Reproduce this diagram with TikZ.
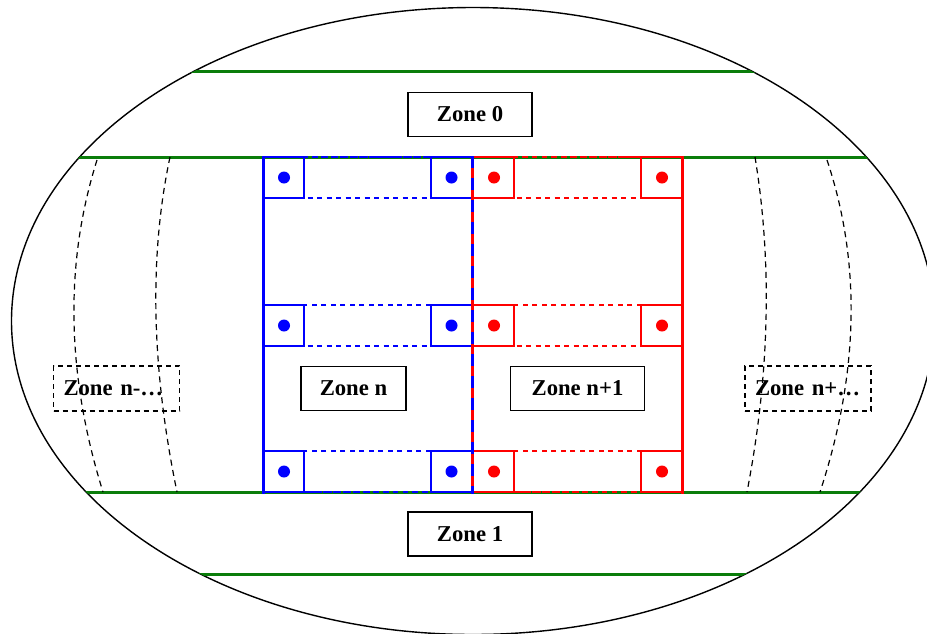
\documentclass[tikz,border=0pt]{standalone}
\usepackage{fontspec}
\setmainfont{Liberation Serif}
\usetikzlibrary{calc}
\definecolor{zgreen}{RGB}{10,125,10}
\definecolor{zblue}{RGB}{0,0,255}
\definecolor{zred}{RGB}{255,0,0}
\tikzset{
  outline/.style={draw=black, line width=1.4pt},
  band/.style={draw=zgreen, line width=3pt},
  wall/.style={line width=3pt},
  walldash/.style={line width=2.6pt, dash pattern=on 5pt off 5pt},
  rowdash/.style={line width=1.4pt, dash pattern=on 5pt off 4.5pt},
  cell/.style={line width=1.4pt},
  guide/.style={draw=black, line width=1.2pt, dash pattern=on 6pt off 4.5pt},
  zonebox/.style={draw=black, line width=1.5pt, minimum height=44pt, inner sep=0pt,
    font=\fontsize{22.7}{26}\selectfont\bfseries},
  farbox/.style={draw=black, line width=1.2pt, dash pattern=on 5pt off 4pt,
    minimum height=45pt, text width=106pt, align=left, inner xsep=10pt, inner ysep=0pt,
    font=\fontsize{22.7}{26}\selectfont\bfseries},
}
\begin{document}
\begin{tikzpicture}[x=1pt, y=-1pt]
\useasboundingbox (0,0) rectangle (927,633);
\clip (0,0) rectangle (927,633);

% outer ellipse and the four green bands, cut at the ellipse
\draw[outline] (473,321) ellipse [x radius=461.5pt, y radius=313.5pt];
\begin{scope}
  \clip (473,321) ellipse [x radius=461.5pt, y radius=313.5pt];
  \foreach \yy in {71,157,492,574} \draw[band] (-10,\yy) -- (940,\yy);
\end{scope}

% curved dashed guides of the neighbouring zones
\coordinate (la) at (97,160);  \coordinate (lb) at (103,492); \coordinate (lq) at (48,315.5);
\coordinate (ma) at (170,157); \coordinate (mb) at (177,492); \coordinate (mq) at (138.5,305.5);
\coordinate (ra) at (755,157); \coordinate (rb) at (747,492); \coordinate (rq) at (781,315.5);
\coordinate (sa) at (827,160); \coordinate (sb) at (820,492); \coordinate (sq) at (878.5,314);
\foreach \p in {l,m,r,s}
  \draw[guide] (\p a) .. controls ($(\p a)!2/3!(\p q)$) and ($(\p b)!2/3!(\p q)$) .. (\p b);

% rows of cells inside zone n (blue) and zone n+1 (red)
\foreach \ya/\yb in {157/198, 305/346, 451/492} {
  \draw[zblue, rowdash] (263,\ya) rectangle (472,\yb);
  \draw[zred, rowdash] (472,\ya) rectangle (682,\yb);
  \draw[zblue, cell] (263,\ya) rectangle (304,\yb);
  \draw[zblue, cell] (431,\ya) rectangle (472,\yb);
  \draw[zred, cell] (473,\ya) rectangle (514,\yb);
  \draw[zred, cell] (641,\ya) rectangle (682,\yb);
  \fill[zblue] (284,{(\ya+\yb)/2}) circle [radius=6pt];
  \fill[zblue] (451.5,{(\ya+\yb)/2}) circle [radius=6pt];
  \fill[zred] (494,{(\ya+\yb)/2}) circle [radius=6pt];
  \fill[zred] (662,{(\ya+\yb)/2}) circle [radius=6pt];
}

% zone walls
\draw[zblue, walldash] (263,157) -- (472,157);
\draw[zblue, walldash] (263,492) -- (472,492);
\draw[zred, walldash] (472,157) -- (682,157);
\draw[zred, walldash] (472,492) -- (682,492);
\draw[zblue, wall] (263,156) -- (263,493.5);
\draw[zred, wall] (682,156) -- (682,493.5);
\draw[zred, wall] (472,156) -- (472,493.5);
\draw[zblue, wall, dash pattern=on 12pt off 10pt] (472,156) -- (472,493.5);

% zone labels
\node[zonebox, minimum width=124pt] (z0) at (470,114.5) {Zone 0};
\node[zonebox, minimum width=124pt] (z1) at (470,534) {Zone 1};
\node[zonebox, minimum width=105pt] (zn) at (353.5,388.5) {Zone n};
\node[zonebox, minimum width=134pt] (zn1) at (577.5,388.5) {Zone n+1};
\node[farbox] (zl) at (116.5,388.5) {Zone n-…};
\node[farbox] (zr) at (808,388.5) {Zone n+…};
\end{tikzpicture}
\end{document}
